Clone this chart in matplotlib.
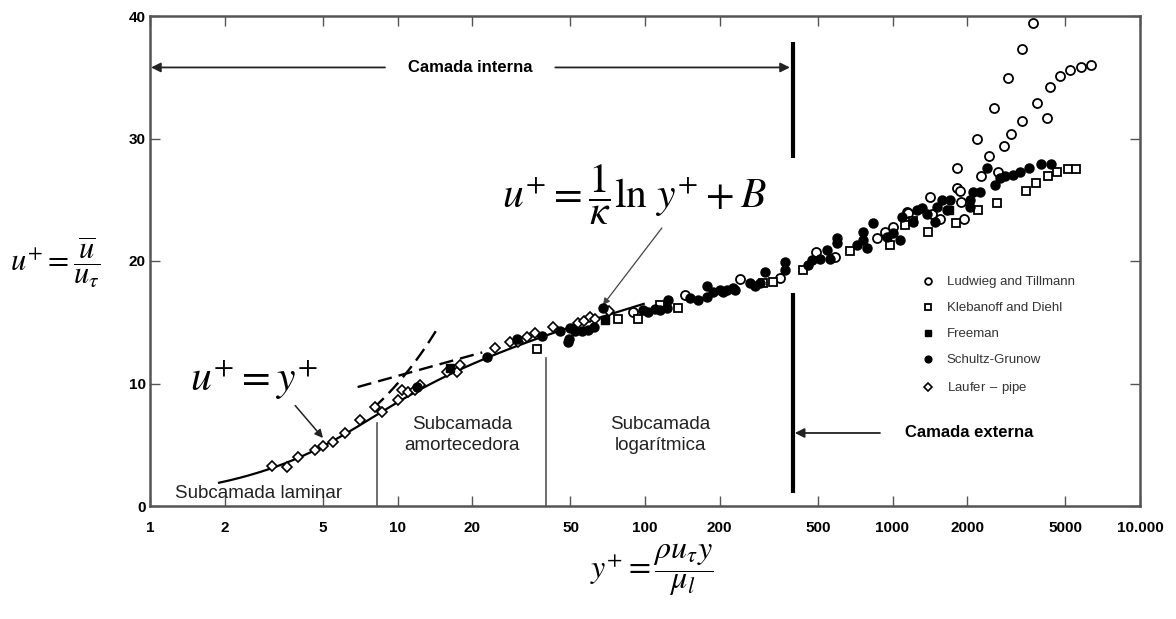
import matplotlib
matplotlib.use("Agg")
import matplotlib.pyplot as plt
import numpy as np

plt.rcParams['font.family'] = ['Liberation Sans', 'DejaVu Sans']
plt.rcParams['mathtext.fontset'] = 'stix'

# --- data (y+, u+) ---
laufer_y = [3.11, 3.58, 3.96, 4.64, 5.0, 5.49, 6.14, 7.05, 8.11, 8.66, 10.0, 10.4, 11.0, 11.8,
            12.3, 15.8, 17.4, 17.9, 24.8, 28.5, 30.7, 33.4, 35.9, 42.5, 53.6, 56.7, 59.9, 62.8, 71.6]
laufer_u = [3.27, 3.18, 4.0, 4.57, 4.9, 5.2, 5.96, 7.0, 8.1, 7.7, 8.65, 9.5, 9.3, 9.5,
            9.9, 10.9, 10.9, 11.5, 12.9, 13.4, 13.4, 13.8, 14.1, 14.6, 14.9, 15.1, 15.4, 15.3, 15.9]

kleb_y = [36.6, 77.8, 93.7, 115, 136, 300, 329, 435, 674, 977, 1124, 1211, 1391, 1806, 2215,
          2644, 3461, 3801, 4250, 4621, 5117, 5512]
kleb_u = [12.8, 15.3, 15.3, 16.4, 16.2, 18.2, 18.3, 19.3, 20.8, 21.3, 22.9, 23.3, 22.4, 23.1, 24.2,
          24.7, 25.7, 26.4, 26.9, 27.3, 27.5, 27.5]

lud_y = [89.5, 145, 242, 351, 491, 586, 865, 933, 1005, 1140, 1156, 1418, 1445, 1556, 1822, 1822,
         1875, 1892, 1945, 2278, 2669, 2194, 2454, 2572, 2822, 2930, 3012, 3336, 3336, 3697, 3836,
         4210, 4327, 4753, 5212, 5777, 6339]
lud_u = [15.8, 17.2, 18.5, 18.6, 20.7, 20.3, 21.9, 22.4, 22.8, 24.0, 23.9, 25.2, 23.8, 23.4, 27.6, 26.0,
         25.7, 24.8, 23.4, 26.9, 27.3, 30.0, 28.6, 32.5, 29.4, 34.9, 30.4, 37.3, 31.4, 39.4, 32.9,
         31.7, 34.2, 35.1, 35.6, 35.8, 36.0]

freeman_y = [16.3, 68.9, 1691]
freeman_u = [11.3, 15.2, 24.2]

schultz_y = [12.0, 23.0, 30.4, 38.4, 45.4, 48.8, 49.3, 49.8, 52.1, 55.6, 58.9, 62.0, 67.6, 98.2,
             103, 110, 115, 123, 124, 152, 164, 178, 178, 188, 201, 206, 214, 227, 232, 265, 278,
             291, 305, 368, 368, 456, 473, 509, 544, 559, 597, 597, 719, 760, 760, 789, 834, 950,
             1005, 1072, 1092, 1211, 1257, 1316, 1378, 1486, 1513, 1585, 1660, 1708, 2056, 2056,
             2115, 2258, 2410, 2596, 2718, 2860, 3069, 3275, 3562, 3983, 4368]
schultz_u = [9.7, 12.2, 13.6, 13.9, 14.3, 13.4, 13.6, 14.5, 14.3, 14.3, 14.4, 14.6, 16.2, 16.0,
             15.8, 16.1, 16.0, 16.2, 16.8, 17.0, 16.8, 17.1, 18.0, 17.5, 17.6, 17.5, 17.6, 17.8, 17.6,
             18.2, 18.0, 18.2, 19.1, 19.9, 19.3, 19.7, 20.1, 20.2, 20.9, 20.2, 21.9, 21.5, 21.3, 21.7,
             22.4, 21.1, 23.1, 22.0, 22.3, 21.7, 23.6, 23.2, 24.2, 24.3, 23.8, 23.2, 24.4, 25.0, 24.2,
             25.0, 25.0, 24.4, 25.6, 25.6, 27.6, 26.2, 26.8, 26.9, 27.0, 27.3, 27.6, 27.9, 27.9]

xticks = [1, 2, 5, 10, 20, 50, 100, 200, 500, 1000, 2000, 5000, 10000]
xtick_labels = ['1', '2', '5', '10', '20', '50', '100', '200', '500', '1000', '2000', '5000', '10.000']
yticks = [0, 10, 20, 30, 40]

kappa = 0.41
B = 5.0

fig = plt.figure(figsize=(11.76, 6.19), dpi=100)
ax = fig.add_axes([150/1176, 113/619, 990/1176, 490/619])
ax.set_xscale('log')
ax.set_xlim(1, 10000)
ax.set_ylim(0, 40)

# theory curves: Spalding wall law (solid), u+=y+ and log law (dashed)
B_sp = 5.5
u_sp = np.linspace(1.9, 16.5, 300)
ku = kappa*u_sp
y_sp = u_sp + np.exp(-kappa*B_sp)*(np.exp(ku) - 1 - ku - ku**2/2 - ku**3/6)
ax.plot(y_sp, u_sp, color='black', lw=1.6, zorder=2)

y_lin = np.linspace(8.0, 14.5, 50)
ax.plot(y_lin, y_lin, color='black', lw=1.7, dashes=(6, 3), zorder=2)
y_log = np.logspace(np.log10(6.9), np.log10(22), 50)
ax.plot(y_log, np.log(y_log)/kappa + B, color='black', lw=1.7, dashes=(6, 3), zorder=2)

# data
ms = 6.5
ax.plot(lud_y, lud_u, ls='none', marker='o', ms=ms, mfc='white', mec='black', mew=1.3,
        label='Ludwieg and Tillmann', zorder=3)
ax.plot(kleb_y, kleb_u, ls='none', marker='s', ms=6, mfc='white', mec='black', mew=1.3,
        label='Klebanoff and Diehl', zorder=3)
ax.plot(freeman_y, freeman_u, ls='none', marker='s', ms=6, mfc='black', mec='black',
        label='Freeman', zorder=4)
ax.plot(schultz_y, schultz_u, ls='none', marker='o', ms=ms, mfc='black', mec='black',
        label='Schultz-Grunow', zorder=4)
ax.plot(laufer_y, laufer_u, ls='none', marker='D', ms=5.5, mfc='white', mec='black', mew=1.2,
        label='Laufer $-$ pipe', zorder=3)

leg = ax.legend(loc='upper left', bbox_to_anchor=(0.774, 0.483), frameon=False, fontsize=9.5,
                labelspacing=1.05, handlelength=0.8, handletextpad=1.0, markerscale=0.75,
                borderpad=0)
for t in leg.get_texts():
    t.set_color('#333333')

# region separators
ax.plot([395, 395], [28.4, 37.9], color='black', lw=3, solid_capstyle='butt')
ax.plot([395, 395], [1.1, 17.4], color='black', lw=3, solid_capstyle='butt')
ax.plot([8.3, 8.3], [0, 6.8], color='#555555', lw=1.2)
ax.plot([39.8, 39.8], [0, 12.1], color='#555555', lw=1.2)

arrow = dict(arrowstyle='-|>', color='#222222', lw=1.3, mutation_scale=14, shrinkA=0, shrinkB=0)
ax.annotate('', xy=(1.01, 35.8), xytext=(8.9, 35.8), arrowprops=arrow)
ax.annotate('', xy=(385, 35.8), xytext=(43.4, 35.8), arrowprops=arrow)
ax.text(19.6, 35.8, 'Camada interna', ha='center', va='center', fontsize=12, fontweight='bold')
ax.annotate('', xy=(403, 5.96), xytext=(890, 5.96), arrowprops=arrow)
ax.text(1124, 5.96, 'Camada externa', ha='left', va='center', fontsize=12, fontweight='bold')

ax.text(1.26, 1.0, 'Subcamada laminar', ha='left', va='center', fontsize=13.5, color='#222222')
ax.text(18.2, 5.8, 'Subcamada\namortecedora', ha='center', va='center', fontsize=13.5,
        color='#222222', linespacing=1.25)
ax.text(115, 5.8, 'Subcamada\nlogarítmica', ha='center', va='center', fontsize=13.5,
        color='#222222', linespacing=1.25)

# formulas
ax.text(1.45, 10.3, r'$u^{+} = y^{+}$', fontsize=30, ha='left', va='center')
ax.annotate('', xy=(5.0, 5.55), xytext=(3.86, 8.2),
            arrowprops=dict(arrowstyle='-|>', color='#222222', lw=1.1, mutation_scale=12,
                            shrinkA=0, shrinkB=0))
ax.text(26.5, 25.4, r'$u^{+} = \dfrac{1}{\kappa}\ln\,y^{+} + B$', fontsize=30, ha='left',
        va='center')
ax.annotate('', xy=(67.6, 16.4), xytext=(117, 22.7),
            arrowprops=dict(arrowstyle='-|>', color='#444444', lw=0.9, mutation_scale=10,
                            shrinkA=0, shrinkB=0))

# axes styling
ax.set_xticks(xticks)
ax.set_xticklabels(xtick_labels)
ax.minorticks_off()
ax.set_yticks(yticks)
ax.tick_params(direction='in', top=True, right=True, length=7, width=1, color='#555555',
               labelsize=11)
ax.tick_params(axis='x', pad=11)
ax.tick_params(axis='y', pad=3)
for lab in ax.get_xticklabels() + ax.get_yticklabels():
    lab.set_fontweight('bold')
for s in ax.spines.values():
    s.set_linewidth(1.8)
    s.set_color('#555555')

fig.text(55/1176, 1 - 262/619, r'$u^{+} = \dfrac{\overline{u}}{u_{\tau}}$', fontsize=22,
         ha='center', va='center')
fig.text(652/1176, 1 - 570/619, r'$y^{+} = \dfrac{\rho u_{\tau} y}{\mu_{l}}$', fontsize=23,
         ha='center', va='center')

fig.savefig('out.png', dpi=100)
